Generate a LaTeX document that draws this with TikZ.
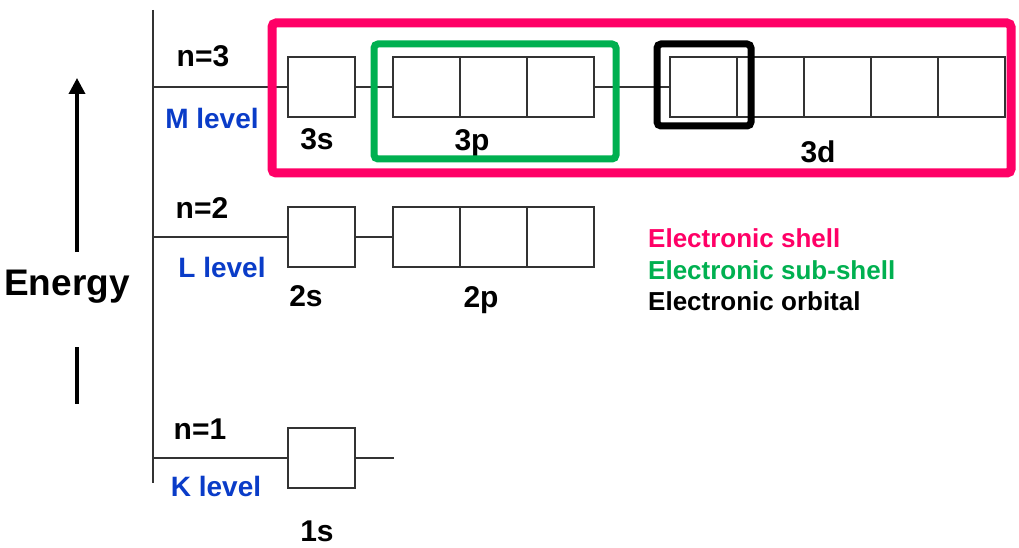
\documentclass[tikz,border=0pt]{standalone}
\usepackage{fontspec}
\setmainfont{Liberation Sans}
\usepackage{xcolor}
\usetikzlibrary{arrows.meta,positioning,calc}

\definecolor{shellpink}{HTML}{FF0066}
\definecolor{subgreen}{HTML}{00B050}
\definecolor{lvlblue}{HTML}{0A3CC8}

\begin{document}
\begin{tikzpicture}[
            x=1pt, y=-1pt,
            orb/.style={rectangle, draw=black!80, line width=1.2pt, minimum width=67pt,
                        minimum height=60pt, inner sep=0pt},
            lvl/.style={draw=black!80, line width=1.2pt},
            nlab/.style={font=\fontsize{30}{32}\selectfont\bfseries, inner sep=0pt},
            klab/.style={font=\fontsize{28}{30}\selectfont\bfseries, text=lvlblue, inner sep=0pt},
            olab/.style={font=\fontsize{30}{32}\selectfont\bfseries, inner sep=0pt},
            leg/.style={font=\fontsize{26}{28}\selectfont\bfseries, anchor=west, inner sep=0pt},
            frame/.style={rounded corners=4pt, line width=#1}
        ]
            \useasboundingbox (0,0) rectangle (1019,548);

            % Energy axis
            \node[font=\fontsize{37}{39}\selectfont\bfseries, inner sep=0pt] (energy) at (67,287) {Energy};
            \coordinate (eup1) at (77,252);
            \coordinate (eup2) at (77,78);
            \coordinate (edn1) at (77,347);
            \coordinate (edn2) at (77,404);
            \draw[line width=3.5pt, -{Triangle[width=16pt,length=16pt]}] (eup1) -- (eup2);
            \draw[line width=3.5pt] (edn1) -- (edn2);

            % Level axis
            \coordinate (axtop) at (153,10);
            \coordinate (axbot) at (153,483);
            \draw[lvl] (axtop) -- (axbot);
            \coordinate (ax3) at (153,87);
            \coordinate (ax2) at (153,237);
            \coordinate (ax1) at (153,458);

            % n=3
            \node[orb] (s3) at (321.5,87) {};
            \node[orb] (p3a) at (426.5,87) {};
            \node[orb] (p3b) at (493.5,87) {};
            \node[orb] (p3c) at (560.5,87) {};
            \foreach \i/\xx in {1/703.5,2/770.5,3/837.5,4/904.5,5/971.5}
                \node[orb] (d3\i) at (\xx,87) {};
            \draw[lvl] (ax3) -- (s3.west);
            \draw[lvl] (s3.east) -- (p3a.west);
            \draw[lvl] (p3c.east) -- (d31.west);

            % n=2
            \node[orb] (s2) at (321.5,237) {};
            \node[orb] (p2a) at (426.5,237) {};
            \node[orb] (p2b) at (493.5,237) {};
            \node[orb] (p2c) at (560.5,237) {};
            \draw[lvl] (ax2) -- (s2.west);
            \draw[lvl] (s2.east) -- (p2a.west);

            % n=1
            \node[orb] (s1) at (321.5,458) {};
            \coordinate (s1end) at (394,458);
            \draw[lvl] (ax1) -- (s1.west);
            \draw[lvl] (s1.east) -- (s1end);

            % Labels
            \node[nlab] (n3) at (203,56) {n=3};
            \node[klab] (mlev) at (212,118) {M level};
            \node[olab] (l3s) at (317,139) {3s};
            \node[olab] (l3p) at (472,143) {3p};
            \node[olab] (l3d) at (818,152) {3d};
            \node[nlab] (n2) at (202,208) {n=2};
            \node[klab] (llev) at (222,267) {L level};
            \node[olab] (l2s) at (306,296) {2s};
            \node[olab] (l2p) at (481,300) {2p};
            \node[nlab] (n1) at (200,429) {n=1};
            \node[klab] (klev) at (216,486) {K level};
            \node[olab] (l1s) at (317,531) {1s};

            % Highlight frames
            \draw[frame=9pt, shellpink] (272,23) rectangle (1011,173);
            \draw[frame=7pt, subgreen] (374,44) rectangle (616,159);
            \draw[frame=7pt, black] (657,44) rectangle (751,126);

            % Legend
            \node[leg, text=shellpink] (legshell) at (648,238) {Electronic shell};
            \node[leg, text=subgreen] (legsub) at (648,270) {Electronic sub-shell};
            \node[leg, text=black] (legorb) at (648,301) {Electronic orbital};
        \end{tikzpicture}
\end{document}
